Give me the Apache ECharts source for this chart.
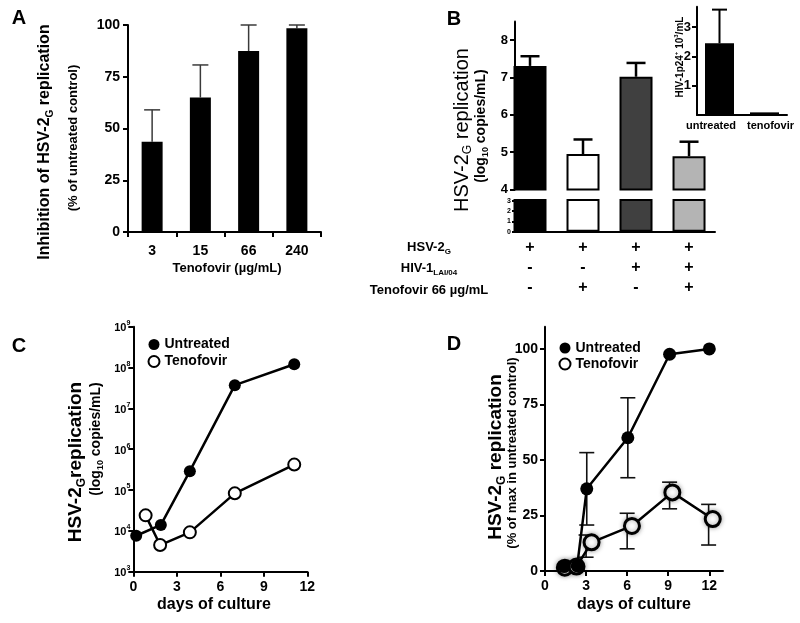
<!DOCTYPE html>
<html><head><meta charset="utf-8">
<script src="https://cdn.jsdelivr.net/npm/echarts@6/dist/echarts.min.js"></script>
<style>html,body{margin:0;padding:0;background:#fff}#c{width:800px;height:623px}</style>
</head><body><div id="c"></div>
<script>
const F = 'Liberation Sans, Arial, sans-serif';

// ---- Panel A ----
const aCats = ['3', '15', '66', '240'];
const aVals = [43.6, 65.0, 87.4, 98.4];
const aErr  = [59.0, 80.7, 100.0, 100.0];

// ---- Panel B ----
const bPos = [1, 2, 3, 4];
const bVals = [7.31, 4.95, 7.02, 4.89];
const bErr  = [7.57, 5.34, 7.39, 5.28];
const bColors = ['#000000', '#ffffff', '#404040', '#b4b4b4'];
const bHSV = ['+', '+', '+', '+'];
const bHIV = ['-', '-', '+', '+'];
const bTFV = ['-', '+', '-', '+'];
const bUpperTicks = [4, 5, 6, 7, 8];
const bLowerTicks = [0, 1, 2, 3];

// ---- Panel B inset ----
const inCats = ['untreated', 'tenofovir'];
const inVals = [2.45, 0.09];
const inErr  = [3.6, null];
const inColors = ['#000000', '#c8c8c8'];
const inTicks = [1, 2, 3];

// ---- Panel C ----
const cDaysU = [0.2, 1.9, 3.9, 7.0, 11.1];
const cUntreated = [7600, 14000, 290000, 37000000, 120000000];
const cDaysT = [0.85, 1.85, 3.9, 7.0, 11.1];
const cTenofovir = [24000, 4500, 9200, 83000, 420000];

// ---- Panel D ----
const dXTicks = [0, 3, 6, 9, 12];
const dYTicks = [0, 25, 50, 75, 100];
const dDaysU = [1.4, 2.35, 3.05, 6.05, 9.1, 12.0];
const dUntreated = [2, 2.3, 37, 60, 97.6, 100];
const dErrXU = [3.05, 6.05];
const dLowU = [20.7, 42];
const dHighU = [53.3, 78];
const dDaysT = [1.45, 2.3, 3.4, 6.35, 9.3, 12.25];
const dTenofovir = [1.5, 2, 12.9, 20.3, 35.4, 23.4];
const dErrXT = [3.0, 6.0, 9.1, 11.95];
const dLowT = [6.2, 10, 28, 11.7];
const dHighT = [16.2, 26, 40, 30];

const chart = echarts.init(document.getElementById('c'), null, {renderer: 'canvas'});

function axLine() { return {show: true, lineStyle: {color: '#000', width: 2}}; }
function axTick(len) { return {show: true, length: len || 5, lineStyle: {color: '#000', width: 2}}; }
function lbl(size, extra) { return Object.assign({color: '#000', fontFamily: F, fontWeight: 'bold', fontSize: size}, extra || {}); }

function errRender(capW, lw, color, both) {
  return function (params, api) {
    const x = api.value(0), lo = api.value(1), hi = api.value(2);
    const pLo = api.coord([x, lo]), pHi = api.coord([x, hi]);
    const st = {stroke: color, lineWidth: lw};
    const ch = [
      {type: 'line', shape: {x1: pLo[0], y1: pLo[1], x2: pHi[0], y2: pHi[1]}, style: st},
      {type: 'line', shape: {x1: pHi[0] - capW / 2, y1: pHi[1], x2: pHi[0] + capW / 2, y2: pHi[1]}, style: st}
    ];
    if (both) ch.push({type: 'line', shape: {x1: pLo[0] - capW / 2, y1: pLo[1], x2: pLo[0] + capW / 2, y2: pLo[1]}, style: st});
    return {type: 'group', children: ch};
  };
}

const subRich = (size, bold) => ({
  t: {fontSize: size, fontWeight: bold ? 'bold' : 'normal', fontFamily: F, color: '#000', lineHeight: size + 4, verticalAlign: 'middle'},
  s: {fontSize: Math.round(size * 0.62), fontWeight: bold ? 'bold' : 'normal', fontFamily: F, color: '#000', lineHeight: size + 4, verticalAlign: 'bottom'},
  u: {fontSize: Math.round(size * 0.62), fontWeight: bold ? 'bold' : 'normal', fontFamily: F, color: '#000', lineHeight: size + 4, verticalAlign: 'top'}
});

function vText(x, y, text, size, bold) {
  return {type: 'text', x: x, y: y, rotation: Math.PI / 2,
    style: {text: text, rich: subRich(size, bold), align: 'center', verticalAlign: 'middle'}};
}
function hText(x, y, text, size, bold) {
  return {type: 'text', x: x, y: y,
    style: {text: text, rich: subRich(size, bold), align: 'center', verticalAlign: 'middle'}};
}

const bBarData = bVals.map((v, i) => ({value: [bPos[i], v], itemStyle: {color: bColors[i]}}));
const bXRange = {min: 0.717, max: 4.49};
const inLblStyle = {fontSize: 11, fontWeight: 'bold', fontFamily: F, color: '#000'};

const legendBase = {orient: 'vertical', padding: 0, itemWidth: 11, itemHeight: 11, itemGap: 3, icon: 'circle', selectedMode: false,
  textStyle: {fontSize: 14, fontWeight: 'bold', fontFamily: F, color: '#000'},
  data: [{name: 'Untreated', itemStyle: {color: '#000', borderWidth: 0}},
         {name: 'Tenofovir', itemStyle: {color: '#fff', borderColor: '#000', borderWidth: 2}}]};

const option = {
  animation: false,
  backgroundColor: '#fff',
  grid: [
    {left: 128, top: 25, width: 193, height: 207},
    {left: 515, top: 21.5, width: 200, height: 168},
    {left: 515, top: 200, width: 200, height: 31.7},
    {left: 697, top: 6.7, width: 90, height: 108.3},
    {left: 133.3, top: 326.7, width: 174, height: 245},
    {left: 545, top: 326.7, width: 178, height: 244.3}
  ],
  xAxis: [
    {gridIndex: 0, type: 'category', data: aCats, axisLine: axLine(), axisTick: axTick(5),
      axisLabel: lbl(14, {margin: 12})},
    {gridIndex: 1, type: 'value', min: bXRange.min, max: bXRange.max, show: false},
    {gridIndex: 2, type: 'value', min: bXRange.min, max: bXRange.max, axisLine: axLine(), axisTick: {show: false},
      splitLine: {show: false},
      axisLabel: {customValues: bPos, margin: 6, color: '#000',
        formatter: v => { const i = Math.round(v) - 1; return '{p|' + bHSV[i] + '}\n{p|' + bHIV[i] + '}\n{p|' + bTFV[i] + '}'; },
        rich: {p: {fontSize: 16, fontWeight: 'bold', fontFamily: F, color: '#000', lineHeight: 20}}}},
    {gridIndex: 3, type: 'category', data: inCats, axisLine: axLine(), axisTick: {show: false},
      axisLabel: {margin: 5, interval: 0, hideOverlap: false,
        formatter: (v, i) => (i === 0 ? '{l|' : '{r|') + v + '}',
        rich: {l: Object.assign({padding: [0, 17, 0, 0]}, inLblStyle), r: Object.assign({padding: [0, 0, 0, 12]}, inLblStyle)}}},
    {gridIndex: 4, type: 'value', min: 0, max: 12, interval: 3, axisLine: axLine(), axisTick: axTick(5),
      splitLine: {show: false}, axisLabel: lbl(14, {margin: 8})},
    {gridIndex: 5, type: 'value', min: 0, max: 13, interval: 3, axisLine: axLine(),
      axisTick: Object.assign(axTick(5), {customValues: dXTicks}),
      splitLine: {show: false}, axisLabel: lbl(14, {margin: 8, customValues: dXTicks})}
  ],
  yAxis: [
    {gridIndex: 0, type: 'value', min: 0, max: 100, interval: 25, axisLine: axLine(), axisTick: axTick(5),
      splitLine: {show: false}, axisLabel: lbl(14, {margin: 8})},
    {gridIndex: 1, type: 'value', min: 4, max: 8.5, interval: 1, axisLine: axLine(),
      axisTick: Object.assign(axTick(5), {customValues: bUpperTicks}),
      splitLine: {show: false}, axisLabel: lbl(13, {margin: 7, customValues: bUpperTicks})},
    {gridIndex: 2, type: 'value', min: 0, max: 3.1, interval: 1, axisLine: axLine(),
      axisTick: Object.assign(axTick(3), {customValues: bLowerTicks}),
      splitLine: {show: false}, axisLabel: lbl(7, {margin: 4, customValues: bLowerTicks})},
    {gridIndex: 3, type: 'value', min: 0, max: 3.7, interval: 1, axisLine: axLine(),
      axisTick: Object.assign(axTick(5), {customValues: inTicks}),
      splitLine: {show: false}, axisLabel: lbl(13, {margin: 6, customValues: inTicks})},
    {gridIndex: 4, type: 'log', logBase: 10, min: 1e3, max: 1e9, splitNumber: 6, axisLine: axLine(), axisTick: axTick(5),
      splitLine: {show: false},
      axisLabel: {margin: 3, formatter: v => '{b|10}{s|' + Math.round(Math.log10(v)) + '}',
        rich: {b: {fontSize: 11, fontWeight: 'bold', fontFamily: F, color: '#000', lineHeight: 14, verticalAlign: 'bottom'},
               s: {fontSize: 7, fontWeight: 'bold', fontFamily: F, color: '#000', lineHeight: 14, verticalAlign: 'top'}}}},
    {gridIndex: 5, type: 'value', min: 0, max: 110, interval: 25, axisLine: axLine(),
      axisTick: Object.assign(axTick(5), {customValues: dYTicks}),
      splitLine: {show: false}, axisLabel: lbl(14, {margin: 7, customValues: dYTicks})}
  ],
  legend: [
    Object.assign({}, legendBase, {left: 147.5, top: 337.5}),
    Object.assign({}, legendBase, {left: 558.5, top: 341, itemGap: 2})
  ],
  series: [
    // A
    {type: 'bar', xAxisIndex: 0, yAxisIndex: 0, data: aVals, barWidth: 21, itemStyle: {color: '#000'}},
    {type: 'custom', xAxisIndex: 0, yAxisIndex: 0, z: 1, renderItem: errRender(16, 1.5, '#3a3a3a', false),
      data: aErr.map((e, i) => [i, aVals[i], e])},
    // B upper + lower
    {type: 'bar', xAxisIndex: 1, yAxisIndex: 1, data: bBarData, barWidth: 33, clip: true,
      itemStyle: {borderColor: '#000', borderWidth: 2}},
    {type: 'bar', xAxisIndex: 2, yAxisIndex: 2, data: bBarData, barWidth: 33, clip: true,
      itemStyle: {borderColor: '#000', borderWidth: 2}},
    {type: 'custom', xAxisIndex: 1, yAxisIndex: 1, renderItem: errRender(19, 2.5, '#000', false),
      data: bErr.map((e, i) => [bPos[i], bVals[i], e])},
    // Inset
    {type: 'bar', xAxisIndex: 3, yAxisIndex: 3, barWidth: 29,
      data: inVals.map((v, i) => ({value: v, itemStyle: {color: inColors[i]}})),
      itemStyle: {borderColor: '#000', borderWidth: 1.5}},
    {type: 'custom', xAxisIndex: 3, yAxisIndex: 3, z: 1, renderItem: errRender(15, 2, '#000', false),
      data: inErr.map((e, i) => [i, inVals[i], e]).filter(d => d[2] !== null)},
    // C
    {type: 'line', name: 'Tenofovir', xAxisIndex: 4, yAxisIndex: 4, symbol: 'circle', symbolSize: 12,
      data: cDaysT.map((d, i) => [d, cTenofovir[i]]),
      lineStyle: {color: '#000', width: 2.5}, itemStyle: {color: '#fff', borderColor: '#000', borderWidth: 2}},
    {type: 'line', name: 'Untreated', xAxisIndex: 4, yAxisIndex: 4, symbol: 'circle', symbolSize: 12, z: 3,
      data: cDaysU.map((d, i) => [d, cUntreated[i]]),
      lineStyle: {color: '#000', width: 2.5}, itemStyle: {color: '#000'}},
    // D
    {type: 'custom', xAxisIndex: 5, yAxisIndex: 5, z: 1, renderItem: errRender(15, 1.6, '#111', true),
      data: dErrXU.map((x, i) => [x, dLowU[i], dHighU[i]])},
    {type: 'custom', xAxisIndex: 5, yAxisIndex: 5, z: 1, renderItem: errRender(15, 1.6, '#111', true),
      data: dErrXT.map((x, i) => [x, dLowT[i], dHighT[i]])},
    {type: 'line', name: 'Tenofovir', xAxisIndex: 5, yAxisIndex: 5, symbol: 'circle', symbolSize: 15,
      data: dDaysT.map((d, i) => [d, dTenofovir[i]]),
      lineStyle: {color: '#000', width: 2.5},
      itemStyle: {color: '#fff', borderColor: '#000', borderWidth: 3, shadowBlur: 5, shadowColor: 'rgba(0,0,0,0.35)'}},
    {type: 'line', name: 'Untreated', xAxisIndex: 5, yAxisIndex: 5, symbol: 'circle', symbolSize: 13, z: 3,
      data: dDaysU.map((d, i) => [d, dUntreated[i]]),
      lineStyle: {color: '#000', width: 2.5}, itemStyle: {color: '#000'}}
  ],
  graphic: [
    hText(19, 18, '{t|A}', 20, true),
    hText(454, 19, '{t|B}', 20, true),
    hText(19, 346, '{t|C}', 20, true),
    hText(454, 344, '{t|D}', 20, true),
    vText(45, 142, '{t|Inhibition of HSV-2}{s|G}{t| replication}', 16, true),
    vText(73, 138, '{t|(% of untreated control)}', 13, true),
    hText(227, 268, '{t|Tenofovir (µg/mL)}', 13, true),
    vText(462, 130, '{t|HSV-2}{s|G}{t| replication}', 20, false),
    vText(481, 126, '{t|(log}{s|10}{t| copies/mL)}', 14, true),
    vText(680, 57, '{t|HIV-1p24}{u|+}{t| 10}{u|3}{t|/mL}', 10, true),
    hText(429, 247, '{t|HSV-2}{s|G}', 13, true),
    hText(429, 268, '{t|HIV-1}{s|LAI/04}', 13, true),
    hText(429, 290, '{t|Tenofovir 66 µg/mL}', 13, true),
    vText(76, 462, '{t|HSV-2}{s|G}{t|replication}', 19, true),
    vText(96, 439, '{t|(log}{s|10}{t| copies/mL)}', 14, true),
    hText(214, 605, '{t|days of culture}', 16, true),
    vText(496, 457, '{t|HSV-2}{s|G}{t| replication}', 19, true),
    vText(512, 453, '{t|(% of max in untreated control)}', 13, true),
    hText(634, 605, '{t|days of culture}', 16, true)
  ]
};
chart.setOption(option);
</script></body></html>
